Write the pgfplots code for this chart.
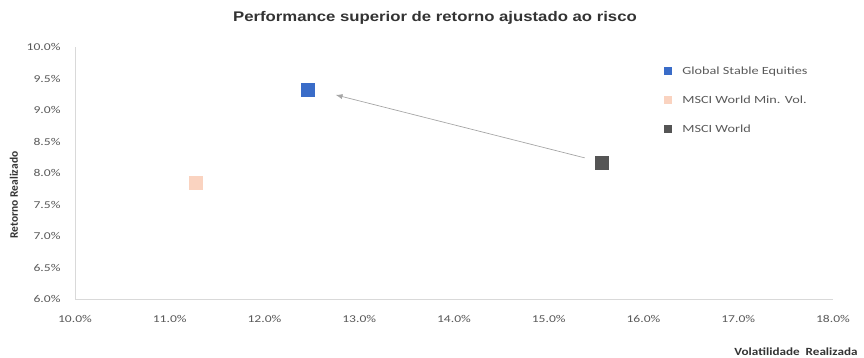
\documentclass[border=0pt]{standalone}
\usepackage{pgfplots}
\pgfplotsset{compat=1.18}
\usepackage{fontspec}
\setmainfont{Carlito}
\newfontfamily\widefont[FakeStretch=1.2]{Carlito}
\newfontfamily\tickfont[FakeStretch=1.3]{Carlito}
\newfontfamily\legfont[FakeStretch=1.3]{Carlito}
\newfontfamily\titlefont[FakeStretch=1.2]{Liberation Sans}
\usetikzlibrary{arrows.meta}
\definecolor{gse}{HTML}{3A6CC8}
\definecolor{mvol}{HTML}{FAD3C0}
\definecolor{msci}{HTML}{555555}
\definecolor{axgray}{HTML}{D9D9D9}
\definecolor{txt}{HTML}{595959}
\begin{document}
\begin{tikzpicture}
\begin{axis}[
  at={(0,0)}, anchor=south west,
  scale only axis, width=758bp, height=252bp,
  xmin=10, xmax=18, ymin=6, ymax=10,
  xtick={10,11,...,18}, ytick={6,6.5,...,10},
  axis x line*=bottom, axis y line*=left,
  axis line style={axgray, line width=0.8pt, -},
  major tick length=0pt,
  /pgf/number format/assume math mode=true,
  /pgf/number format/.cd, fixed, fixed zerofill, precision=1, /pgfplots/.cd,
  xticklabel={\pgfmathprintnumber{\tick}\%},
  yticklabel={\pgfmathprintnumber{\tick}\%},
  ticklabel style={font=\tickfont\fontsize{10.5}{12}\selectfont, text=txt},
  xticklabel style={yshift=-13bp},
  yticklabel style={xshift=-11bp},
  legend style={at={(rel axis cs:0.772,0.937)}, anchor=north west, draw=none, fill=none,
    font=\legfont\fontsize{11}{13}\selectfont, text=txt, row sep=16bp},
  legend cell align=left,
  legend image code/.code={\path[draw=none,fill=none] (0bp,0bp) -- (17bp,0bp); \draw[#1, mark size=3.5bp] plot coordinates {(4bp,1bp)};},
  clip=false,
]
\addplot[only marks, mark=square*, mark size=6.5bp, color=gse] coordinates {(12.46,9.33)};
\addlegendentry{Global Stable Equities}
\addplot[only marks, mark=square*, mark size=6.5bp, color=mvol] coordinates {(11.27,7.85)};
\addlegendentry{MSCI World Min. Vol.}
\addplot[only marks, mark=square*, mark size=6.5bp, color=msci] coordinates {(15.56,8.17)};
\addlegendentry{MSCI World}
\draw[color=gray!70, line width=0.7pt, -{Latex[length=7bp,width=5bp]}] (axis cs:15.38,8.24) -- (axis cs:12.75,9.24);
\end{axis}
\node[text=black!80, font=\titlefont\bfseries\fontsize{14}{16}\selectfont] at (360bp,281bp) {Performance superior de retorno ajustado ao risco};
\node[rotate=90, text=black!80, font=\bfseries\fontsize{11.5}{13}\selectfont] at (-61bp,104bp) {Retorno Realizado};
\node[text=black!80, font=\widefont\bfseries\fontsize{11}{13}\selectfont] at (721bp,-53bp) {Volatilidade\ \ Realizada};
\pgfresetboundingbox
\path (-75bp,-59bp) rectangle (789bp,299bp);
\end{tikzpicture}
\end{document}
